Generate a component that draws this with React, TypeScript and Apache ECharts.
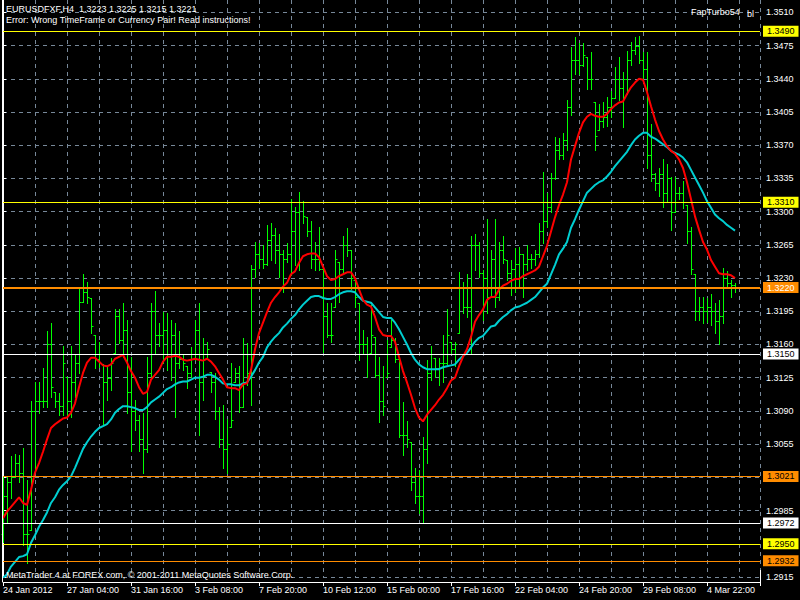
import React, { useEffect, useRef } from 'react';
import * as echarts from 'echarts';

const symbolHeader = 'EURUSDFXF,H4  1.3223 1.3225 1.3215 1.3221';
const errorText = 'Error: Wrong TimeFrame or Currency Pair! Read instructions!';
const expertName = 'FapTurbo54';
const expertMark = 'bl';
const footerText = 'MetaTrader 4 at FOREX.com, \u00A9 2001-2011 MetaQuotes Software Corp.';

// time labels every 16 H4 bars
const timeLabels = ['24 Jan 2012', '27 Jan 04:00', '31 Jan 16:00', '3 Feb 08:00', '7 Feb 20:00', '10 Feb 12:00',
  '15 Feb 00:00', '17 Feb 16:00', '22 Feb 04:00', '24 Feb 20:00', '29 Feb 08:00', '4 Mar 22:00'];
const barsPerLabel = 16;
const barsPerGrid = 8;

const priceMin = 1.2915;
const priceMax = 1.3523;
const priceStep = 0.0035;

const barOpen = [
  1.2960,1.3000,1.3015,1.3020,1.3035,1.3025,1.2960,1.2965,1.3090,1.3100,
  1.3100,1.3100,1.3160,1.3110,1.3100,1.3095,1.3126,1.3100,1.3120,1.3140,
  1.3205,1.3215,1.3209,1.3170,1.3145,1.3139,1.3120,1.3125,1.3151,1.3190,
  1.3165,1.3175,1.3110,1.3090,1.3080,1.3060,1.3050,1.3130,1.3195,1.3170,
  1.3170,1.3175,1.3150,1.3170,1.3140,1.3145,1.3137,1.3130,1.3150,1.3175,
  1.3120,1.3150,1.3131,1.3120,1.3090,1.3060,1.3050,1.3073,1.3120,1.3130,
  1.3094,1.3150,1.3130,1.3240,1.3255,1.3250,1.3245,1.3270,1.3275,1.3260,
  1.3255,1.3250,1.3255,1.3280,1.3300,1.3310,1.3294,1.3280,1.3250,1.3250,
  1.3240,1.3190,1.3170,1.3200,1.3247,1.3240,1.3265,1.3260,1.3228,1.3204,
  1.3160,1.3160,1.3151,1.3168,1.3128,1.3100,1.3126,1.3157,1.3165,1.3145,
  1.3065,1.3065,1.3057,1.3015,1.3000,1.3000,1.3050,1.3130,1.3146,1.3135,
  1.3140,1.3140,1.3163,1.3155,1.3172,1.3220,1.3200,1.3200,1.3265,1.3265,
  1.3235,1.3230,1.3210,1.3250,1.3210,1.3260,1.3249,1.3235,1.3240,1.3245,
  1.3255,1.3245,1.3250,1.3250,1.3255,1.3280,1.3290,1.3305,1.3335,1.3365,
  1.3360,1.3375,1.3410,1.3460,1.3460,1.3455,1.3463,1.3440,1.3416,1.3386,
  1.3395,1.3400,1.3410,1.3420,1.3440,1.3430,1.3440,1.3460,1.3470,1.3475,
  1.3460,1.3450,1.3360,1.3340,1.3330,1.3340,1.3320,1.3335,1.3300,1.3320,
  1.3320,1.3307,1.3280,1.3234,1.3195,1.3200,1.3195,1.3200,1.3195,1.3185,
  1.3190,1.3230,1.3225,1.3223
];
const barHigh = [
  1.3020,1.3020,1.3043,1.3045,1.3044,1.3051,1.3017,1.3100,1.3121,1.3120,
  1.3135,1.3174,1.3183,1.3110,1.3109,1.3158,1.3126,1.3158,1.3149,1.3220,
  1.3234,1.3226,1.3209,1.3170,1.3163,1.3139,1.3137,1.3146,1.3197,1.3197,
  1.3204,1.3186,1.3147,1.3102,1.3086,1.3088,1.3147,1.3204,1.3216,1.3183,
  1.3194,1.3193,1.3186,1.3183,1.3174,1.3149,1.3137,1.3157,1.3186,1.3204,
  1.3167,1.3163,1.3131,1.3130,1.3094,1.3096,1.3081,1.3141,1.3135,1.3137,
  1.3167,1.3162,1.3244,1.3268,1.3267,1.3265,1.3286,1.3288,1.3283,1.3276,
  1.3260,1.3267,1.3313,1.3305,1.3321,1.3311,1.3294,1.3290,1.3268,1.3284,
  1.3241,1.3204,1.3204,1.3260,1.3247,1.3274,1.3283,1.3260,1.3228,1.3204,
  1.3175,1.3168,1.3202,1.3168,1.3147,1.3137,1.3165,1.3186,1.3167,1.3146,
  1.3099,1.3079,1.3057,1.3030,1.3028,1.3062,1.3144,1.3158,1.3146,1.3146,
  1.3170,1.3197,1.3163,1.3163,1.3236,1.3226,1.3234,1.3274,1.3276,1.3268,
  1.3239,1.3292,1.3260,1.3292,1.3268,1.3274,1.3249,1.3249,1.3262,1.3263,
  1.3255,1.3265,1.3255,1.3260,1.3288,1.3342,1.3320,1.3341,1.3379,1.3378,
  1.3383,1.3418,1.3474,1.3484,1.3478,1.3478,1.3463,1.3468,1.3416,1.3413,
  1.3416,1.3421,1.3427,1.3452,1.3463,1.3447,1.3469,1.3479,1.3484,1.3485,
  1.3468,1.3468,1.3392,1.3341,1.3346,1.3355,1.3350,1.3337,1.3337,1.3326,
  1.3332,1.3307,1.3284,1.3234,1.3210,1.3210,1.3209,1.3213,1.3204,1.3207,
  1.3241,1.3237,1.3228,1.3225
];
const barLow = [
  1.2952,1.2973,1.2998,1.3020,1.3015,1.2949,1.2930,1.2965,1.3028,1.3088,
  1.3094,1.3094,1.3105,1.3094,1.3086,1.3086,1.3084,1.3084,1.3105,1.3130,
  1.3205,1.3204,1.3172,1.3135,1.3136,1.3075,1.3102,1.3112,1.3151,1.3162,
  1.3147,1.3088,1.3048,1.3070,1.3048,1.3025,1.3047,1.3126,1.3151,1.3158,
  1.3141,1.3133,1.3123,1.3084,1.3135,1.3133,1.3114,1.3126,1.3144,1.3065,
  1.3102,1.3147,1.3110,1.3081,1.3052,1.3030,1.3025,1.3073,1.3120,1.3089,
  1.3094,1.3117,1.3096,1.3231,1.3241,1.3241,1.3244,1.3249,1.3246,1.3231,
  1.3215,1.3247,1.3233,1.3244,1.3239,1.3288,1.3274,1.3241,1.3239,1.3239,
  1.3152,1.3168,1.3163,1.3200,1.3205,1.3236,1.3253,1.3218,1.3200,1.3144,
  1.3151,1.3126,1.3151,1.3126,1.3078,1.3086,1.3126,1.3157,1.3142,1.3063,
  1.3044,1.3052,1.3007,1.2993,1.2982,1.2973,1.3035,1.3123,1.3126,1.3117,
  1.3120,1.3139,1.3151,1.3137,1.3172,1.3193,1.3189,1.3151,1.3239,1.3231,
  1.3186,1.3193,1.3210,1.3199,1.3207,1.3246,1.3228,1.3212,1.3215,1.3221,
  1.3210,1.3239,1.3241,1.3244,1.3252,1.3267,1.3284,1.3300,1.3334,1.3355,
  1.3355,1.3365,1.3402,1.3445,1.3445,1.3453,1.3429,1.3429,1.3365,1.3386,
  1.3389,1.3390,1.3400,1.3420,1.3418,1.3389,1.3424,1.3455,1.3466,1.3457,
  1.3441,1.3346,1.3332,1.3323,1.3316,1.3305,1.3311,1.3281,1.3300,1.3313,
  1.3304,1.3267,1.3234,1.3186,1.3186,1.3183,1.3184,1.3181,1.3172,1.3160,
  1.3183,1.3221,1.3210,1.3215
];
const barClose = [
  1.3000,1.3015,1.3020,1.3035,1.3025,1.2960,1.2960,1.3090,1.3100,1.3100,
  1.3100,1.3160,1.3115,1.3100,1.3095,1.3140,1.3100,1.3120,1.3140,1.3205,
  1.3215,1.3210,1.3180,1.3145,1.3140,1.3120,1.3125,1.3140,1.3190,1.3165,
  1.3175,1.3110,1.3090,1.3080,1.3060,1.3050,1.3130,1.3195,1.3170,1.3170,
  1.3175,1.3150,1.3170,1.3140,1.3145,1.3140,1.3130,1.3150,1.3175,1.3120,
  1.3150,1.3155,1.3120,1.3090,1.3060,1.3050,1.3055,1.3080,1.3130,1.3094,
  1.3150,1.3130,1.3240,1.3255,1.3250,1.3245,1.3270,1.3275,1.3260,1.3255,
  1.3250,1.3255,1.3280,1.3300,1.3310,1.3295,1.3280,1.3250,1.3250,1.3240,
  1.3190,1.3170,1.3170,1.3250,1.3240,1.3265,1.3260,1.3230,1.3210,1.3160,
  1.3160,1.3150,1.3170,1.3128,1.3100,1.3095,1.3130,1.3165,1.3145,1.3065,
  1.3065,1.3060,1.3015,1.3000,1.3000,1.3050,1.3130,1.3150,1.3135,1.3140,
  1.3140,1.3170,1.3155,1.3160,1.3220,1.3200,1.3200,1.3265,1.3265,1.3235,
  1.3230,1.3210,1.3250,1.3210,1.3260,1.3250,1.3235,1.3240,1.3245,1.3255,
  1.3245,1.3250,1.3250,1.3255,1.3280,1.3290,1.3305,1.3335,1.3365,1.3360,
  1.3375,1.3410,1.3460,1.3460,1.3455,1.3465,1.3440,1.3440,1.3380,1.3395,
  1.3400,1.3410,1.3420,1.3440,1.3430,1.3440,1.3460,1.3470,1.3475,1.3460,
  1.3450,1.3360,1.3340,1.3330,1.3340,1.3320,1.3335,1.3300,1.3320,1.3320,
  1.3310,1.3280,1.3240,1.3195,1.3200,1.3195,1.3200,1.3195,1.3185,1.3190,
  1.3230,1.3225,1.3223,1.3221
];
const maFast = [
  1.2977,1.2984,1.2989,1.2994,1.2999,1.2993,1.2991,1.3007,1.3025,1.3035,
  1.3047,1.3060,1.3072,1.3076,1.3079,1.3082,1.3083,1.3088,1.3098,1.3115,
  1.3130,1.3141,1.3146,1.3146,1.3142,1.3138,1.3137,1.3139,1.3145,1.3147,
  1.3149,1.3141,1.3132,1.3125,1.3115,1.3108,1.3110,1.3123,1.3128,1.3133,
  1.3142,1.3147,1.3147,1.3148,1.3147,1.3144,1.3143,1.3144,1.3145,1.3144,
  1.3143,1.3145,1.3142,1.3137,1.3130,1.3123,1.3115,1.3114,1.3114,1.3112,
  1.3118,1.3119,1.3133,1.3155,1.3172,1.3183,1.3194,1.3204,1.3210,1.3215,
  1.3221,1.3225,1.3234,1.3237,1.3246,1.3253,1.3255,1.3256,1.3256,1.3252,
  1.3242,1.3232,1.3228,1.3229,1.3232,1.3234,1.3236,1.3236,1.3230,1.3218,
  1.3207,1.3202,1.3200,1.3189,1.3176,1.3170,1.3169,1.3169,1.3163,1.3147,
  1.3132,1.3120,1.3107,1.3093,1.3083,1.3079,1.3086,1.3091,1.3096,1.3102,
  1.3107,1.3114,1.3122,1.3125,1.3137,1.3147,1.3155,1.3168,1.3184,1.3191,
  1.3197,1.3207,1.3210,1.3210,1.3218,1.3222,1.3224,1.3227,1.3229,1.3229,
  1.3232,1.3234,1.3236,1.3238,1.3242,1.3253,1.3264,1.3279,1.3294,1.3307,
  1.3318,1.3331,1.3355,1.3369,1.3383,1.3394,1.3400,1.3403,1.3401,1.3400,
  1.3400,1.3403,1.3408,1.3412,1.3415,1.3416,1.3424,1.3431,1.3436,1.3440,
  1.3439,1.3426,1.3411,1.3397,1.3385,1.3376,1.3369,1.3364,1.3361,1.3355,
  1.3346,1.3331,1.3313,1.3295,1.3281,1.3268,1.3260,1.3249,1.3242,1.3235,
  1.3234,1.3234,1.3233,1.3230
];
const maSlow = [
  1.2914,1.2918,1.2926,1.2931,1.2936,1.2937,1.2939,1.2951,1.2959,1.2968,
  1.2975,1.2983,1.2993,1.2999,1.3007,1.3012,1.3016,1.3021,1.3030,1.3040,
  1.3050,1.3057,1.3063,1.3068,1.3072,1.3074,1.3076,1.3081,1.3088,1.3092,
  1.3095,1.3095,1.3094,1.3093,1.3091,1.3091,1.3094,1.3099,1.3102,1.3105,
  1.3109,1.3113,1.3115,1.3118,1.3120,1.3121,1.3121,1.3123,1.3125,1.3125,
  1.3126,1.3128,1.3128,1.3126,1.3123,1.3119,1.3118,1.3118,1.3117,1.3117,
  1.3119,1.3120,1.3126,1.3133,1.3141,1.3147,1.3157,1.3163,1.3168,1.3172,
  1.3178,1.3182,1.3187,1.3191,1.3197,1.3202,1.3206,1.3210,1.3211,1.3211,
  1.3209,1.3208,1.3208,1.3210,1.3213,1.3215,1.3216,1.3216,1.3215,1.3210,
  1.3206,1.3205,1.3204,1.3199,1.3194,1.3189,1.3188,1.3188,1.3183,1.3176,
  1.3168,1.3160,1.3151,1.3144,1.3139,1.3136,1.3134,1.3134,1.3134,1.3134,
  1.3136,1.3137,1.3138,1.3139,1.3144,1.3148,1.3151,1.3157,1.3163,1.3167,
  1.3169,1.3174,1.3179,1.3180,1.3185,1.3189,1.3192,1.3196,1.3199,1.3200,
  1.3202,1.3204,1.3207,1.3210,1.3215,1.3220,1.3224,1.3234,1.3244,1.3255,
  1.3261,1.3268,1.3283,1.3292,1.3302,1.3311,1.3320,1.3324,1.3328,1.3331,
  1.3333,1.3337,1.3342,1.3348,1.3353,1.3358,1.3363,1.3370,1.3376,1.3380,
  1.3383,1.3383,1.3379,1.3377,1.3374,1.3371,1.3368,1.3364,1.3362,1.3360,
  1.3357,1.3352,1.3344,1.3336,1.3328,1.3320,1.3311,1.3304,1.3297,1.3293,
  1.3290,1.3286,1.3283,1.3280
];

// support / resistance levels drawn by the expert
const levelPrices = [1.3310, 1.3490, 1.3220, 1.3150, 1.3021, 1.2972, 1.2950, 1.2932];

const FONT = 'Liberation Sans';
const GRID_COLOR = '#778899';
const YELLOW = '#FFFF00';
const ORANGE = '#FF8C00';
const WHITE = '#FFFFFF';
const levelStyles = [
  { line: YELLOW, text: '#000000', width: 1 },
  { line: YELLOW, text: '#000000', width: 1 },
  { line: ORANGE, text: '#FFFFFF', width: 2 },
  { line: WHITE, text: '#000000', width: 1 },
  { line: ORANGE, text: '#000000', width: 1 },
  { line: WHITE, text: '#000000', width: 1 },
  { line: YELLOW, text: '#000000', width: 1 },
  { line: ORANGE, text: '#000000', width: 1 },
];

export default function App() {
  const ref = useRef<HTMLDivElement>(null);
  useEffect(() => {
    document.body.style.margin = '0';
    document.body.style.background = '#000000';
    if (!ref.current) return;
    const chart = echarts.init(ref.current, null, { renderer: 'svg' });

    const barCount = barClose.length;
    const xMax = 189.25;
    const ohlc = barClose.map((c, i) => [i, barOpen[i], barHigh[i], barLow[i], c]);
    const fastData = maFast.map((v, i) => [i, v]);
    const slowData = maSlow.map((v, i) => [i, v]);

    const yLabel = (v: number) => {
      const k = Math.round((v - priceMin) / priceStep);
      if (Math.abs(priceMin + k * priceStep - v) > 1e-7) return '';
      if (levelPrices.some((p) => Math.abs(p - v) < 0.0005)) return '';
      return v.toFixed(4);
    };
    const xLabel = (v: number) => {
      const k = v / barsPerLabel;
      if (Math.abs(k - Math.round(k)) > 1e-6) return '';
      const idx = Math.round(k);
      return idx >= 0 && idx < timeLabels.length && v < barCount ? timeLabels[idx] : '';
    };

    const textEl = (text: string, x: number, y: number) => ({
      type: 'text', x, y, z: 100,
      style: { text, fill: '#FFFFFF', fontSize: 9, fontFamily: FONT, verticalAlign: 'middle', textAlign: 'left' },
    });

    const option: any = {
      animation: false,
      backgroundColor: '#000000',
      textStyle: { fontFamily: FONT, fontSize: 9 },
      grid: { left: 3, right: 40, top: 0, bottom: 23, containLabel: false },
      xAxis: [
        {
          type: 'value', min: 0, max: xMax, interval: barsPerGrid,
          axisLine: { show: false }, axisTick: { show: false }, axisLabel: { show: false },
          splitLine: { show: true, lineStyle: { color: GRID_COLOR, width: 1, type: [4, 4] } },
        },
        {
          type: 'value', min: 0, max: xMax, interval: barsPerLabel, position: 'bottom', offset: 5,
          axisLine: { show: true, lineStyle: { color: WHITE, width: 1 } },
          axisTick: { show: true, length: 4, lineStyle: { color: WHITE } },
          splitLine: { show: false },
          axisLabel: { color: WHITE, fontSize: 9, fontFamily: FONT, align: 'left', margin: 3, formatter: xLabel },
        },
      ],
      yAxis: {
        type: 'value', position: 'right', min: priceMin, max: priceMax, interval: priceStep,
        axisLine: { show: true, lineStyle: { color: WHITE, width: 1 } },
        axisTick: { show: true, length: 3, lineStyle: { color: WHITE } },
        axisLabel: { color: WHITE, fontSize: 9, fontFamily: FONT, margin: 6, formatter: yLabel, showMaxLabel: false },
        splitLine: { show: true, showMaxLine: false, lineStyle: { color: GRID_COLOR, width: 1, type: [4, 4] } },
      },
      series: [
        {
          type: 'custom', name: 'EURUSDFXF', xAxisIndex: 0, yAxisIndex: 0, z: 2,
          encode: { x: 0, y: [1, 2, 3, 4] },
          data: ohlc,
          renderItem: (params: any, api: any) => {
            const i = api.value(0);
            const ph = api.coord([i, api.value(2)]);
            const pl = api.coord([i, api.value(3)]);
            const po = api.coord([i, api.value(1)]);
            const pc = api.coord([i, api.value(4)]);
            const x = Math.round(ph[0]) + 0.5;
            const yo = Math.round(po[1]) + 0.5;
            const yc = Math.round(pc[1]) + 0.5;
            const st = { stroke: '#00FF00', lineWidth: 1, opacity: 1 };
            return {
              type: 'group',
              children: [
                { type: 'line', shape: { x1: x, y1: Math.round(ph[1]), x2: x, y2: Math.round(pl[1]) + 1 }, style: st },
                { type: 'line', shape: { x1: x - 2, y1: yo, x2: x, y2: yo }, style: st },
                { type: 'line', shape: { x1: x, y1: yc, x2: x + 2, y2: yc }, style: st },
              ],
            };
          },
        },
        {
          type: 'line', name: 'MA slow', xAxisIndex: 0, yAxisIndex: 0, z: 3, data: slowData, showSymbol: false, symbol: 'none',
          lineStyle: { color: '#00CED1', width: 2 }, silent: true,
        },
        {
          type: 'line', name: 'MA fast', xAxisIndex: 0, yAxisIndex: 0, z: 3, data: fastData, showSymbol: false, symbol: 'none',
          lineStyle: { color: '#FF0000', width: 2 }, silent: true,
          markLine: {
            silent: true, symbol: ['none', 'none'], animation: false, precision: 4,
            lineStyle: { color: YELLOW, type: 'solid', width: 1 },
            data: levelPrices.map((p, k) => ({
              yAxis: p,
              lineStyle: { color: levelStyles[k].line, width: levelStyles[k].width, type: 'solid', opacity: 1 },
              label: {
                show: true, position: 'end', distance: 3, formatter: p.toFixed(4),
                color: levelStyles[k].text, backgroundColor: levelStyles[k].line,
                padding: [1, 4, 0, 4], fontSize: 9, fontFamily: FONT, lineHeight: 10,
              },
            })),
          },
        },
      ],
      graphic: [
        { type: 'line', z: 50, shape: { x1: 2.5, y1: 0, x2: 2.5, y2: 582 }, style: { stroke: WHITE, lineWidth: 1 } },
        { type: 'line', z: 50, shape: { x1: 760.5, y1: 570, x2: 760.5, y2: 582 }, style: { stroke: WHITE, lineWidth: 1 } },
        textEl(symbolHeader, 6, 9),
        textEl(errorText, 6, 20),
        textEl(expertName, 691, 12),
        textEl(expertMark, 747, 14),
        textEl(footerText, 6, 575),
      ],
    };
    chart.setOption(option);
    return () => chart.dispose();
  }, []);
  return <div ref={ref} style={{ position: 'fixed', left: 0, top: 0, width: 800, height: 600, background: '#000000' }} />;
}
